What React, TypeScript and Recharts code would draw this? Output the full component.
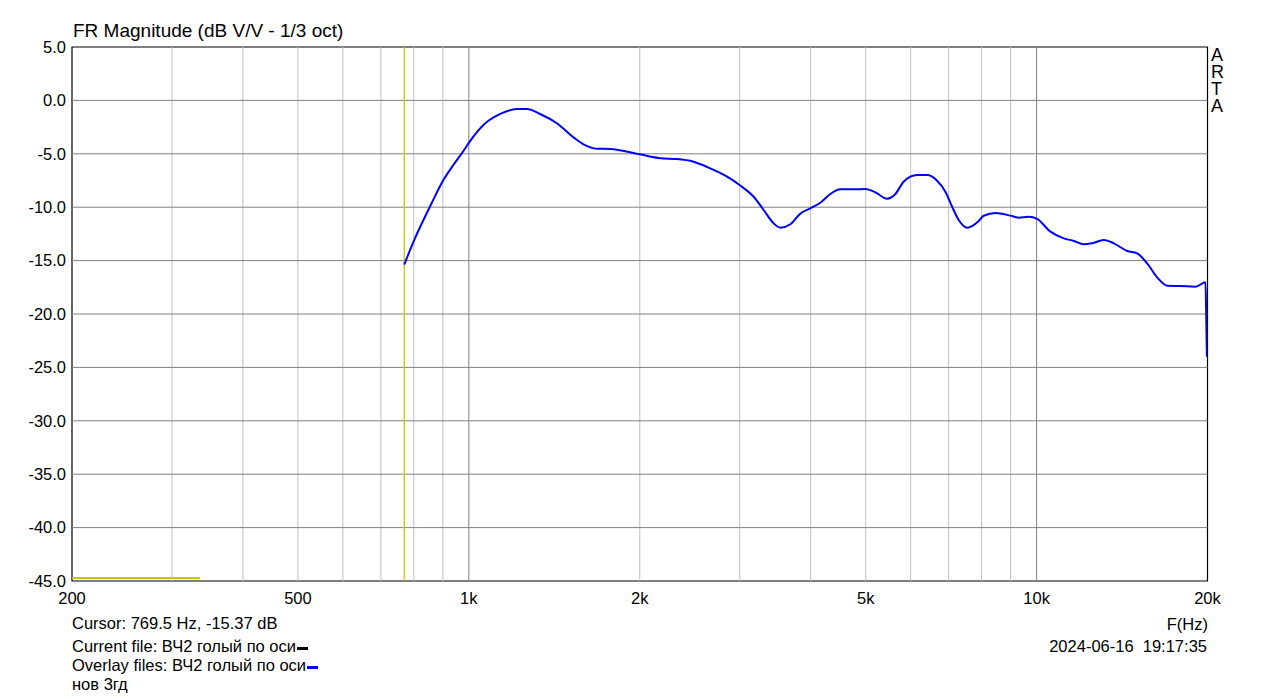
import { LineChart, Line, XAxis, YAxis, ReferenceLine, ReferenceArea } from 'recharts';

// overlay curve (Hz, dB)
const freqs = [
  769.5, 804, 855, 902, 939, 972, 1002, 1061, 1136, 1215, 1265, 1335, 1429, 1529, 1592, 1681, 1774,
  1998, 2174, 2326, 2488, 2662, 2850, 2998, 3174, 3306, 3442, 3537, 3684, 3837, 3994, 4160, 4332,
  4512, 4762, 4994, 5200, 5454, 5640, 5832, 6158, 6414, 6680, 6908, 7098, 7292, 7544, 7908, 8070,
  8462, 8994, 9300, 9686, 10022, 10578, 11166, 11628, 12106, 12526, 13134, 13678, 14442, 15034,
  15658, 16304, 16984, 17928, 19052, 19840, 19900, 19950,
];
const levels = [
  -15.37, -12.9, -9.9, -7.45, -6.05, -4.95, -3.9, -2.3, -1.27, -0.81, -0.81, -1.27, -2.14, -3.46, -4.11, -4.52, -4.55,
  -5.05, -5.42, -5.49, -5.74, -6.36, -7.14, -7.92, -9.02, -10.26, -11.51, -11.92, -11.6, -10.6, -10.1, -9.58, -8.76,
  -8.32, -8.32, -8.3, -8.61, -9.2, -8.76, -7.61, -6.99, -6.99, -7.52, -8.55, -9.95, -11.2, -11.92, -11.29, -10.8,
  -10.54, -10.79, -10.98, -10.89, -11.1, -12.29, -12.92, -13.16, -13.48, -13.38, -13.07, -13.38, -14.1, -14.32,
  -15.26, -16.57, -17.35, -17.38, -17.44, -17.03, -20.5, -24.0,
];

const xTicks = [200, 500, 1000, 2000, 5000, 10000, 20000];
const yTicks = [-45, -40, -35, -30, -25, -20, -15, -10, -5, 0, 5];
const minorFreqs = [300, 400, 500, 600, 700, 800, 900, 2000, 3000, 4000, 5000, 6000, 7000, 8000, 9000];
const majorFreqs = [1000, 10000];
const hLines = [-40, -35, -30, -25, -20, -15, -10, -5, 0];

const cursorFreq = 769.5;
const markerFrom = 200;
const markerTo = 336;
const markerLevel = -44.72;

const data = freqs.map((f, i) => ({ f, db: levels[i] }));

const fmtHz = (v: number) => (v >= 1000 ? v / 1000 + 'k' : String(v));

const font = '"Liberation Sans", Arial, sans-serif';
const txt = { position: 'absolute' as const, fontSize: 16.5, lineHeight: '18px', color: '#000', whiteSpace: 'pre' as const };

export default function App() {
  return (
    <div style={{ position: 'absolute', left: 0, top: 0, width: 1279, height: 699, fontFamily: font, background: '#fff' }}>
      <LineChart width={1279} height={699} data={data} margin={{ top: 47, right: 71.5, left: 0, bottom: 88 }}>
        <XAxis
          dataKey="f"
          type="number"
          scale="log"
          domain={[200, 20000]}
          allowDataOverflow
          ticks={xTicks}
          interval={0}
          tickFormatter={fmtHz}
          tickLine={false}
          axisLine={false}
          tickSize={0}
          tickMargin={11}
          height={30}
          tick={{ fill: '#000', fontSize: 16.5, fontFamily: font }}
        />
        <YAxis
          type="number"
          domain={[-45, 5]}
          ticks={yTicks}
          interval={0}
          tickFormatter={(v: number) => v.toFixed(1)}
          tickLine={false}
          axisLine={false}
          tickSize={0}
          tickMargin={6}
          width={72}
          tick={{ fill: '#000', fontSize: 16.5, fontFamily: font }}
        />
        {minorFreqs.map((f) => (
          <ReferenceLine key={'m' + f} x={f} stroke="#c0c0c0" strokeWidth={1} />
        ))}
        {majorFreqs.map((f) => (
          <ReferenceLine key={'M' + f} x={f} stroke="#808080" strokeWidth={1} />
        ))}
        {hLines.map((v) => (
          <ReferenceLine key={'h' + v} y={v} stroke="#808080" strokeWidth={1} />
        ))}
        <ReferenceLine x={cursorFreq} stroke="#c8c800" strokeWidth={1.3} />
        <ReferenceLine
          segment={[{ x: markerFrom, y: markerLevel }, { x: markerTo, y: markerLevel }]}
          stroke="#c8c800"
          strokeWidth={2}
        />
        <Line type="monotone" dataKey="db" stroke="#0000ff" strokeWidth={2} dot={false} isAnimationActive={false} />
        <ReferenceArea x1={200} x2={20000} y1={-45} y2={5} fill="none" stroke="#000" strokeWidth={1.2} />
      </LineChart>

      <div style={{ ...txt, fontSize: 19, left: 73, top: 22 }}>FR Magnitude (dB V/V - 1/3 oct)</div>
      <div style={{ ...txt, fontSize: 18, lineHeight: '16.7px', left: 1211, top: 47.4 }}>{'A\nR\nT\nA'}</div>
      <div style={{ ...txt, left: 72, top: 614 }}>Cursor: 769.5 Hz, -15.37 dB</div>
      <div style={{ ...txt, left: 72, top: 637 }}>
        Current file: ВЧ2 голый по оси
        <span style={{ display: 'inline-block', width: 11, height: 3, background: '#000', marginLeft: 1, marginBottom: 2.5 }} />
      </div>
      <div style={{ ...txt, left: 72, top: 656 }}>
        Overlay files: ВЧ2 голый по оси
        <span style={{ display: 'inline-block', width: 11, height: 3, background: '#0000ff', marginLeft: 1, marginBottom: 2.5 }} />
      </div>
      <div style={{ ...txt, left: 72, top: 675 }}>нов 3гд</div>
      <div style={{ ...txt, right: 71, top: 615 }}>F(Hz)</div>
      <div style={{ ...txt, right: 72, top: 637 }}>2024-06-16  19:17:35</div>
    </div>
  );
}
